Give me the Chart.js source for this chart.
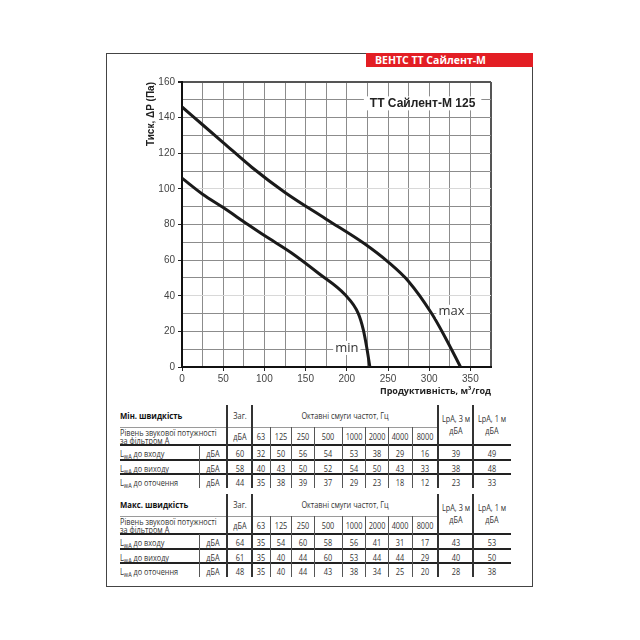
<!DOCTYPE html>
<html>
<head>
<meta charset="utf-8">
<script src="https://cdn.jsdelivr.net/npm/chart.js@4"></script>
<style>
  body { margin: 0; width: 640px; height: 640px; background: #fff; position: relative; overflow: hidden; font-family: "Open Sans", sans-serif; }
  #frame { position: absolute; left: 106px; top: 53px; width: 425px; height: 532px; border: 1px solid #444; }
  #banner { position: absolute; left: 366px; top: 53px; width: 167px; height: 14px; background: #e31e24; color: #fff;
            font: bold 10.5px "Open Sans", sans-serif; line-height: 14px; padding-left: 9px; box-sizing: border-box; }
  #wrap { position: absolute; left: 106px; top: 68px; width: 426px; height: 332px; }
  .t { position: absolute; white-space: nowrap; font-size: 8.5px; line-height: 9px; color: #333;
       font-family: "Open Sans", sans-serif; transform: translate(-50%, -50%) scaleX(0.86); }
  .t.left { transform: translate(0, -50%) scaleX(0.86); transform-origin: 0 50%; }
  .t.b { font-weight: bold; color: #111; font-size: 9px; }
  .t sub { font-size: 6.5px; vertical-align: -2px; line-height: 0; }
  .ln { position: absolute; background: #222; }
</style>
</head>
<body>
<div id="frame"></div>
<div id="banner">ВЕНТС ТТ Сайлент-М</div>
<div id="wrap"><canvas id="chart-curve"></canvas></div>
<div id="tables"></div>

<script>
// fan curves, flow m3/h vs pressure Pa
const flowMax = [0, 25, 50, 85, 125, 175, 222, 250, 275, 303, 319, 338];
const presMax = [146, 136, 126, 112, 98, 83, 69, 59, 48, 30, 17, 0];
const flowMin = [0, 25, 50, 80, 101, 133, 166, 198, 214, 220, 224, 228];
const presMin = [106, 97, 89.5, 80, 73.5, 64, 52.5, 40.5, 30, 21, 11.5, 0];

const chartTitle = "ТТ Сайлент-М 125";
const yTitle = "Тиск, ΔP (Па)";
const xTitle = "Продуктивність, м³/год";

// sound tables
const octaveBands = ["63", "125", "250", "500", "1000", "2000", "4000", "8000"];
const rowNames = ["до входу", "до виходу", "до оточення"];
const minTotal = [60, 58, 44];
const minBands = [
  [32, 50, 56, 54, 53, 38, 29, 16],
  [40, 43, 50, 52, 54, 50, 43, 33],
  [35, 38, 39, 37, 29, 23, 18, 12]
];
const minLpa3 = [39, 38, 23];
const minLpa1 = [49, 48, 33];
const maxTotal = [64, 61, 48];
const maxBands = [
  [35, 54, 60, 58, 56, 41, 31, 17],
  [35, 40, 44, 60, 53, 44, 44, 29],
  [35, 40, 44, 43, 38, 34, 25, 20]
];
const maxLpa3 = [43, 40, 28];
const maxLpa1 = [53, 50, 38];

const toPoints = (xs, ys) => xs.map((v, i) => ({x: v, y: ys[i]}));

const labels = {
  id: 'labels',
  afterDatasetsDraw(chart) {
    const {ctx, scales: {x, y}} = chart;
    ctx.save();
    ctx.textAlign = 'center';
    ctx.textBaseline = 'middle';

    const boxText = (txt, vx, vy, font, color, pad) => {
      ctx.font = font;
      const w = ctx.measureText(txt).width;
      const px = x.getPixelForValue(vx), py = y.getPixelForValue(vy);
      ctx.fillStyle = '#fff';
      ctx.fillRect(px - w / 2 - pad, py - 7, w + pad * 2, 14);
      ctx.fillStyle = color;
      ctx.fillText(txt, px, py);
    };
    boxText(chartTitle, 292, 148, 'bold 12px "Liberation Sans"', '#222', 6);
    boxText('max', 327, 31, '13px "Open Sans"', '#333', 2);
    boxText('min', 200, 10.7, '13px "Open Sans"', '#333', 2);
    ctx.restore();
  }
};

const gridColor = (ctx, top, light) => {
  const v = ctx.tick.value;
  if (v === top) return '#555';
  if (light.includes(v)) return '#d8d8d8';
  return '#8c8c8c';
};

new Chart(document.getElementById('chart-curve'), {
  type: 'line',
  data: {
    datasets: [
      { label: 'max', data: toPoints(flowMax, presMax) },
      { label: 'min', data: toPoints(flowMin, presMin) }
    ]
  },
  options: {
    responsive: true,
    maintainAspectRatio: false,
    animation: false,
    layout: { padding: { left: 0, right: 41, top: 14, bottom: 0 } },
    elements: {
      line: { borderColor: '#1a1a1a', borderWidth: 3, cubicInterpolationMode: 'monotone', fill: false },
      point: { radius: 0 }
    },
    plugins: { legend: { display: false }, tooltip: { enabled: false } },
    scales: {
      x: {
        type: 'linear', min: 0, max: 375,
        afterFit(s) { s.height = 33; },
        border: { color: '#111', width: 2 },
        grid: {
          color: c => gridColor(c, 375, []),
          lineWidth: c => c.tick.value === 375 ? 2 : 1,
          tickLength: 4,
          tickColor: c => c.tick.value % 50 === 0 ? '#222' : 'rgba(0,0,0,0)'
        },
        ticks: {
          stepSize: 25, maxRotation: 0, autoSkip: false, padding: 2,
          color: '#444', font: { family: 'Liberation Sans', size: 10 },
          callback: v => v % 50 === 0 ? v : ''
        },
        title: {
          display: true, text: xTitle, align: 'end', color: '#222',
          font: { family: 'Open Sans', size: 9, weight: 'bold' },
          padding: { top: 0, bottom: 3 }
        }
      },
      y: {
        min: 0, max: 160,
        afterFit(s) { s.width = 76; },
        border: { color: '#111', width: 2 },
        grid: {
          color: c => gridColor(c, 160, [40, 100]),
          lineWidth: c => c.tick.value === 160 ? 2 : 1,
          tickLength: 4,
          tickColor: c => c.tick.value % 20 === 0 ? '#222' : 'rgba(0,0,0,0)'
        },
        ticks: {
          stepSize: 10, autoSkip: false, padding: 3,
          color: '#444', font: { family: 'Liberation Sans', size: 10 },
          callback: v => v % 20 === 0 ? v : ''
        },
        title: {
          display: true, text: yTitle, align: 'end', color: '#222',
          font: { family: 'Liberation Sans', size: 10, weight: 'bold' },
          padding: { top: 39, bottom: 0 }
        }
      }
    }
  },
  plugins: [labels]
});

// ---- tables under the chart ----
const host = document.getElementById('tables');
const colEdges = [120, 199, 227, 252, 270, 291, 314, 342, 365, 388, 412, 438, 473, 511];
const mid = i => (colEdges[i] + colEdges[i + 1]) / 2;

function text(x, y, html, cls) {
  const d = document.createElement('div');
  d.className = 't' + (cls ? ' ' + cls : '');
  d.style.left = x + 'px';
  d.style.top = y + 'px';
  d.innerHTML = html;
  host.appendChild(d);
}
function hline(x1, x2, y, w, col) {
  const d = document.createElement('div');
  d.className = 'ln';
  Object.assign(d.style, { left: x1 + 'px', top: (y - w / 2) + 'px', width: (x2 - x1) + 'px', height: w + 'px', background: col });
  host.appendChild(d);
}
function vline(x, y1, y2, w, col) {
  const d = document.createElement('div');
  d.className = 'ln';
  Object.assign(d.style, { left: (x - w / 2) + 'px', top: y1 + 'px', width: w + 'px', height: (y2 - y1) + 'px', background: col });
  host.appendChild(d);
}

function soundTable(dy, title, total, bands, lpa3, lpa1) {
  const rowY = [453, 467.5, 481.5].map(v => v + dy);
  text(120, 415 + dy, title, 'left b');
  text(mid(2), 415 + dy, 'Заг.');
  text((colEdges[3] + colEdges[11]) / 2, 415 + dy, 'Октавні смуги частот, Гц');
  text(mid(11), 418 + dy, 'LpA, 3 м');
  text(mid(11), 430 + dy, 'дБА');
  text(mid(12), 418 + dy, 'LpA, 1 м');
  text(mid(12), 430 + dy, 'дБА');
  text(120, 432 + dy, 'Рівень звукової потужності', 'left');
  text(120, 440 + dy, 'за фільтром А', 'left');
  text(mid(2), 436 + dy, 'дБА');
  octaveBands.forEach((b, i) => text(mid(3 + i), 436 + dy, b));

  rowNames.forEach((name, r) => {
    text(120, rowY[r], 'L<sub>wA</sub> ' + name, 'left');
    text(mid(1), rowY[r], 'дБА');
    text(mid(2), rowY[r], total[r]);
    bands[r].forEach((v, i) => text(mid(3 + i), rowY[r], v));
    text(mid(11), rowY[r], lpa3[r]);
    text(mid(12), rowY[r], lpa1[r]);
  });

  hline(120, 438, 427 + dy, 1, '#9a9a9a');
  [445, 460, 474].forEach(y => hline(120, 511, y + dy, 1.5, '#222'));
  [2, 3, 11, 12].forEach(i => vline(colEdges[i], 405 + dy, 488 + dy, 1.5, '#333'));
  for (let i = 4; i < 11; i++) vline(colEdges[i], 427 + dy, 488 + dy, 1, '#555');
  vline(colEdges[1], 445 + dy, 488 + dy, 1, '#555');
}

soundTable(0, 'Мін. швидкість', minTotal, minBands, minLpa3, minLpa1);
soundTable(89, 'Макс. швидкість', maxTotal, maxBands, maxLpa3, maxLpa1);
</script>
</body>
</html>
